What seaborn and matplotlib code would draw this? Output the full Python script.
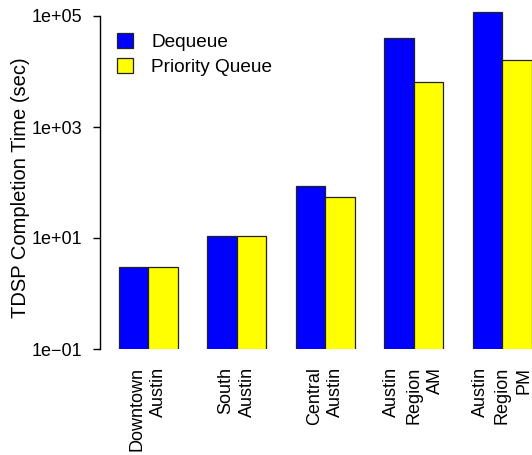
import numpy as np
import pandas as pd
import matplotlib
matplotlib.use("Agg")
import matplotlib.pyplot as plt
import seaborn as sns

# Road networks and TDSP completion times (seconds) for each queue type
networks = ["Downtown\nAustin", "South\nAustin", "Central\nAustin",
            "Austin\nRegion\nAM", "Austin\nRegion\nPM"]
dequeue_times = [3.0, 11.0, 85.0, 40600.0, 116000.0]
pq_times = [3.0, 11.0, 55.0, 6500.0, 15900.0]
series_names = ["Dequeue", "Priority Queue"]
ytick_values = [1e-1, 1e1, 1e3, 1e5]
ytick_labels = ["1e\u221201", "1e+01", "1e+03", "1e+05"]

df = pd.DataFrame({
    "network": networks * 2,
    "time": dequeue_times + pq_times,
    "queue": [series_names[0]] * len(networks) + [series_names[1]] * len(networks),
})

sns.set_style("white")
plt.rcParams["font.family"] = ["Liberation Sans", "DejaVu Sans"]
plt.rcParams.update({"text.color": "black", "axes.labelcolor": "black",
                     "xtick.color": "black", "ytick.color": "black"})
FS = 13

W, H = 532, 455
fig = plt.figure(figsize=(W / 100, H / 100), dpi=100)
ax = fig.add_axes([100 / W, (H - 349) / H, (W - 100) / W, 349 / H])
ax.set_yscale("log")

sns.barplot(data=df, x="network", y="time", hue="queue",
            palette=["#0000ff", "#ffff00"], width=2 / 3,
            edgecolor="#222222", linewidth=0.9, errorbar=None,
            saturation=1, ax=ax)

px_per_decade = 333 / 6
ax.set_ylim(0.1, 10 ** (-1 + 349 / px_per_decade))
ax.set_xlim(-48 / 88.5, (W - 148) / 88.5)

for s in ["top", "right", "bottom"]:
    ax.spines[s].set_visible(False)
ax.spines["left"].set_bounds(1e-1, 1e5)
ax.spines["left"].set_color("black")
ax.spines["left"].set_linewidth(1.0)

ax.set_yticks(ytick_values)
ax.set_yticklabels(ytick_labels)
ax.yaxis.set_minor_locator(matplotlib.ticker.NullLocator())
ax.tick_params(axis="y", left=True, length=5, width=1.0, color="black",
               labelcolor="black", pad=8, labelsize=FS)
ax.tick_params(axis="x", bottom=False, length=0, pad=13, labelsize=FS,
               labelcolor="black")
ax.set_xticks(range(len(networks)))
ax.set_xticklabels(networks, rotation=90, ha="center", va="top",
                   multialignment="right", linespacing=1.35)

ax.set_xlabel("")
ax.set_ylabel("TDSP Completion Time (sec)", fontsize=14.5, color="black")
ax.yaxis.set_label_coords(-70 / (W - 100), (349 - 188) / 349)

handles, labels = ax.get_legend_handles_labels()
leg = ax.legend(handles, labels, loc="upper left",
                bbox_to_anchor=(117 / W, 1 - 33 / H), bbox_transform=fig.transFigure,
                frameon=False, fontsize=13.7, handlelength=0.85, handleheight=0.85,
                handletextpad=0.95, labelspacing=0.35, borderpad=0, borderaxespad=0)
for t in leg.get_texts():
    t.set_color("black")

fig.savefig("out.png", dpi=100)
